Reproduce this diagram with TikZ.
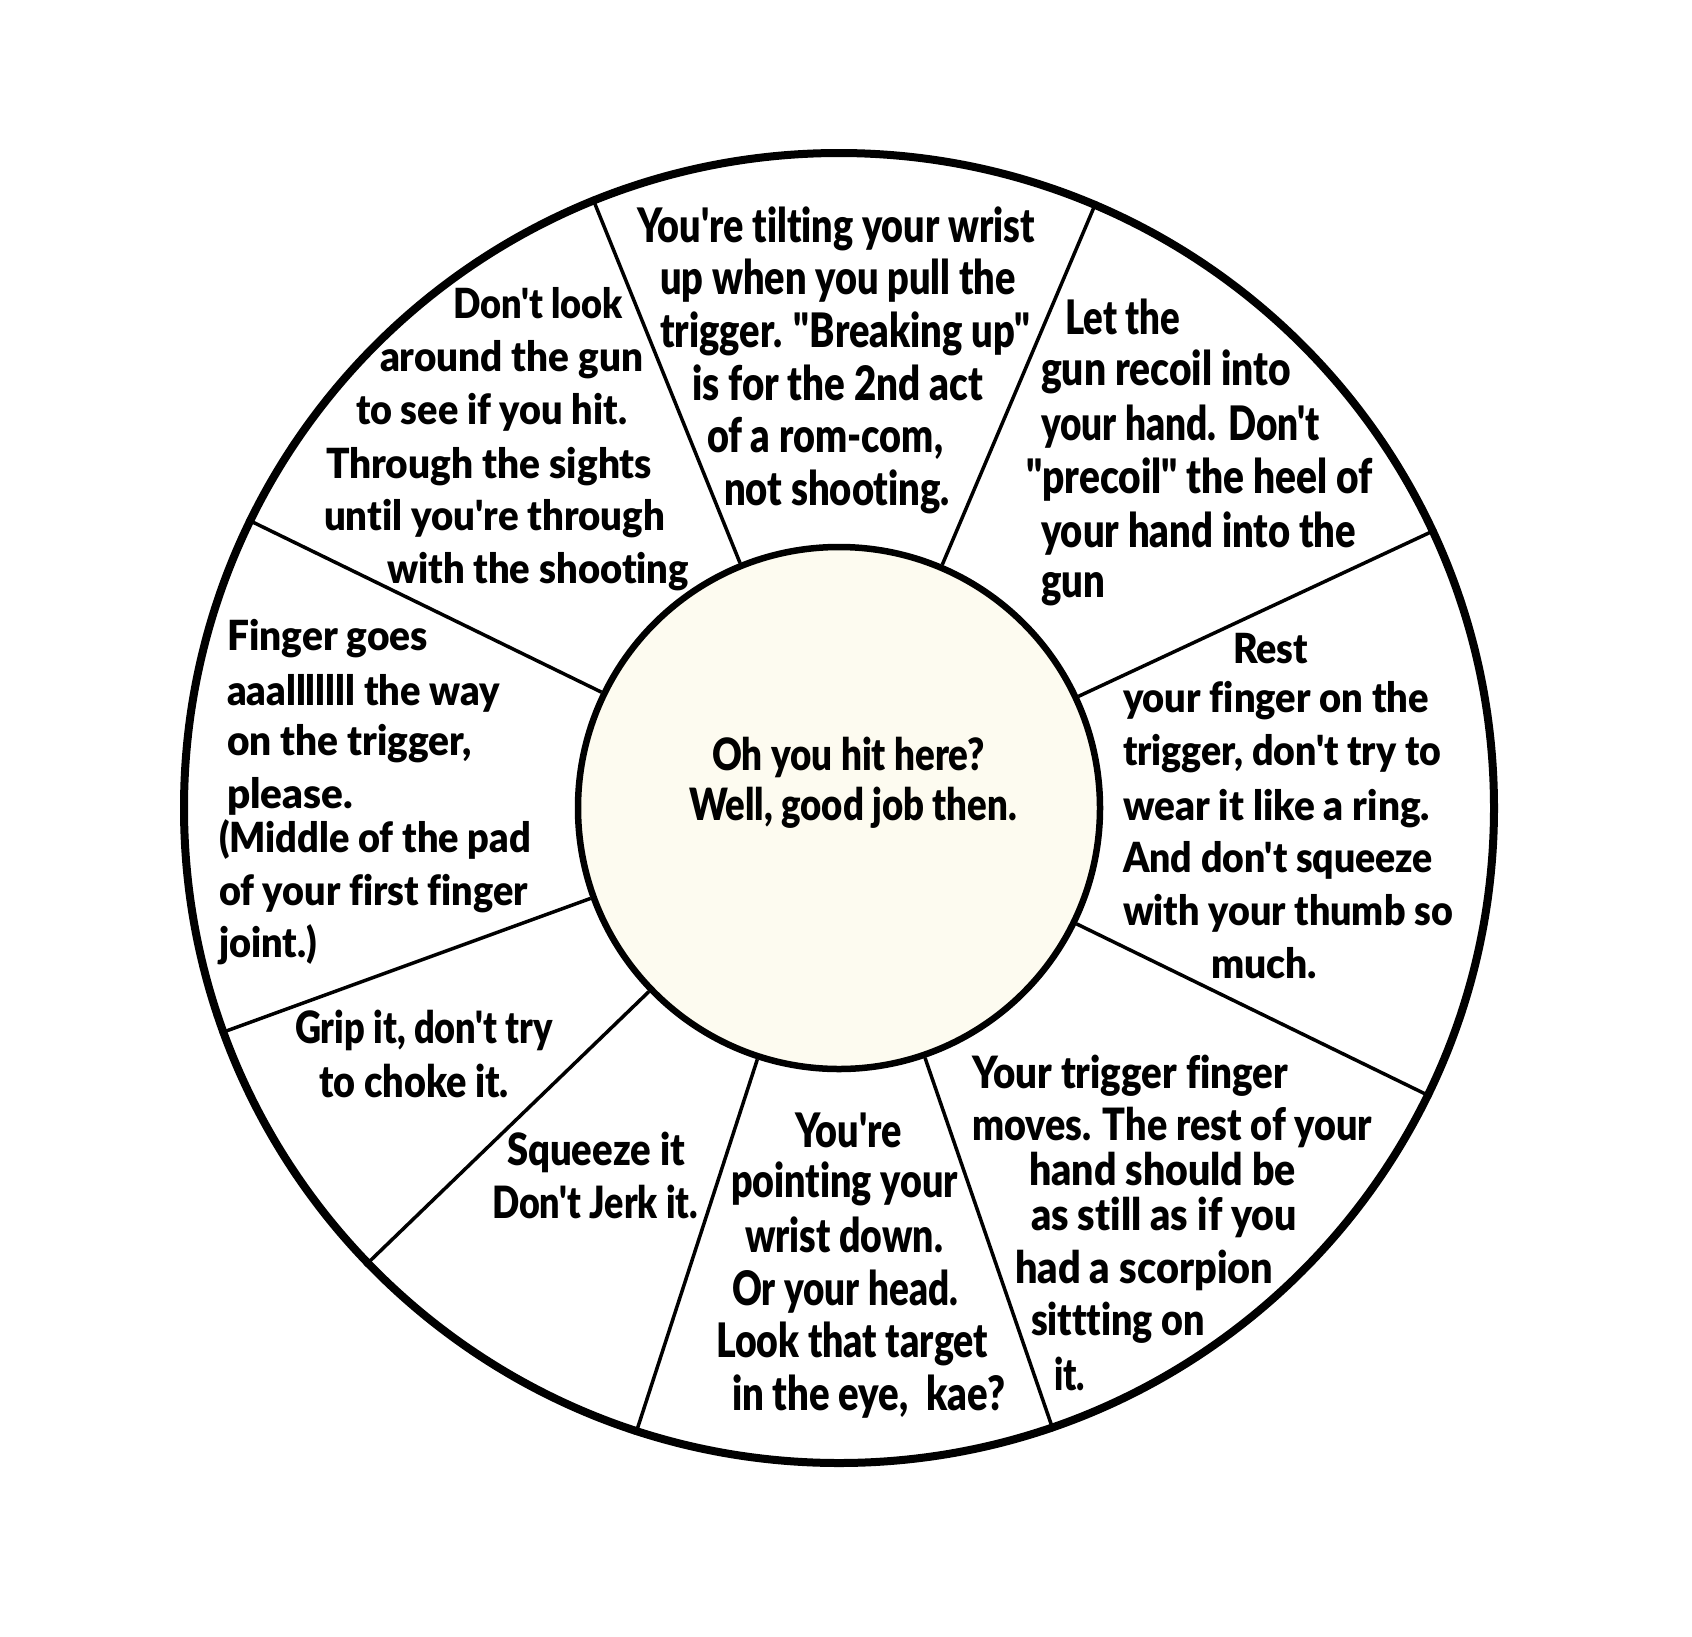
\documentclass[tikz,border=0pt]{standalone}
\usepackage{graphicx}
\usepackage{fontspec}
\newif\iffoundfont \foundfontfalse
\newcommand\tryheavy[1]{\iffoundfont\else
  \IfFontExistsTF{#1}{\newfontfamily\impbase{#1}[Ligatures={NoCommon}]\gdef\impf{\impbase}\global\foundfonttrue}{}\fi}
\tryheavy{Lato Black}
\tryheavy{Lato Heavy}
\tryheavy{Fira Sans Black}
\tryheavy{Fira Sans ExtraBold}
\iffoundfont\else
  \newfontfamily\impbase{DejaVu Sans}\gdef\impf{\impbase\bfseries}
\fi
\newcommand\fitw[2]{\resizebox{#1pt}{\height}{#2}}
\definecolor{cream}{RGB}{253,251,240}
\begin{document}
\begin{tikzpicture}[x=1pt,y=-1pt,
  ln/.style={anchor=base west, inner sep=0pt, outer sep=0pt, text=black},
  fa/.style={font=\impf\fontsize{41.5}{42}\selectfont},
  fb/.style={font=\impf\fontsize{44.5}{45}\selectfont},
  fc/.style={font=\impf\fontsize{47.5}{48}\selectfont},
  spoke/.style={line width=3.5pt, draw=black},
]
\useasboundingbox (0,0) rectangle (1692,1636);
\fill[white] (0,0) rectangle (1692,1636);
\node[circle, draw=black, fill=white, line width=8pt, minimum size=1310pt, inner sep=0pt] (o) at (839,808) {};
\node[circle, draw=black, fill=cream, line width=6.5pt, minimum size=522pt, inner sep=0pt] (c) at (839,808) {};
\foreach \a in {112,67,25,-26,-71,-108,-136.5,-160,154.5}
  \draw[spoke] (c.\a) -- (o.\a);

% Block A
\begin{scope}[every node/.style={ln,fa}]
\node (a1) at (453,318) {\fitw{170}{Don't look}};
\node (a2) at (380,371) {\fitw{263}{around the gun}};
\node (a3) at (356,424) {\fitw{271}{to see if you hit.}};
\node (a4) at (326,478) {\fitw{326}{Through the sights}};
\node (a5) at (324,530) {\fitw{341}{until you're through}};
\node (a6) at (387,583) {\fitw{302}{with the shooting}};
\end{scope}
% Block B
\begin{scope}[every node/.style={ln,fc}]
\node (b1) at (637,242) {\fitw{398}{You're tilting your wrist}};
\node (b2) at (660,294) {\fitw{356}{up when you pull the}};
\node (b3) at (660,347) {\fitw{370}{trigger. "Breaking up"}};
\node (b4) at (692,400) {\fitw{291}{is for the 2nd act}};
\node (b5) at (707,452) {\fitw{236}{of a rom-com,}};
\node (b6) at (724,505) {\fitw{226}{not shooting.}};
\end{scope}
% Block C
\begin{scope}[every node/.style={ln,fc}]
\node (c1) at (1065,334) {\fitw{115}{Let the}};
\node (c2) at (1041,385) {\fitw{250}{gun recoil into}};
\node (c3) at (1041,440) {\fitw{279}{your hand. Don't}};
\node (c4) at (1026,493) {\fitw{347}{"precoil" the heel of}};
\node (c5) at (1041,547) {\fitw{315}{your hand into the}};
\node (c6) at (1041,597) {\fitw{64}{gun}};
\end{scope}
% Block D
\begin{scope}[every node/.style={ln,fa}]
\node (d1) at (227,650) {\fitw{201}{Finger goes}};
\node (d2) at (227,705) {\fitw{273}{aaalllllll the way}};
\node (d3) at (227,755) {\fitw{245}{on the trigger,}};
\node (d4) at (227,808) {\fitw{126}{please.}};
\node (d5) at (219,852) {\fitw{312}{(Middle of the pad}};
\node (d6) at (219,905) {\fitw{309}{of your first finger}};
\node (d7) at (219,957) {\fitw{98}{joint.)}};
\end{scope}
% Block E
\begin{scope}[every node/.style={ln,fa}]
\node (e1) at (1233,663) {\fitw{75}{Rest}};
\node (e2) at (1123,712) {\fitw{306}{your finger on the}};
\node (e3) at (1123,765) {\fitw{318}{trigger, don't try to}};
\node (e4) at (1123,820) {\fitw{307}{wear it like a ring.}};
\node (e5) at (1123,872) {\fitw{310}{And don't squeeze}};
\node (e6) at (1123,925) {\fitw{330}{with your thumb so}};
\node (e7) at (1211,978) {\fitw{106}{much.}};
\end{scope}
% Blocks F, G
\begin{scope}[every node/.style={ln,fb}]
\node (f1) at (295,1043) {\fitw{258}{Grip it, don't try}};
\node (f2) at (319,1097) {\fitw{190}{to choke it.}};
\node (g1) at (507,1165) {\fitw{178}{Squeeze it}};
\node (g2) at (492,1218) {\fitw{206}{Don't Jerk it.}};
\end{scope}
% Block H
\begin{scope}[every node/.style={ln,fc}]
\node (h1) at (795,1147) {\fitw{107}{You're}};
\node (h2) at (731,1197) {\fitw{227}{pointing your}};
\node (h3) at (745,1252) {\fitw{198}{wrist down.}};
\node (h4) at (732,1305) {\fitw{226}{Or your head.}};
\node (h5) at (716,1357) {\fitw{272}{Look that target}};
\node (h6) at (732,1410) {\fitw{273}{in the eye,\ \ kae?}};
\end{scope}
% Block I
\begin{scope}[every node/.style={ln,fb}]
\node (i1) at (972,1088) {\fitw{316}{Your trigger finger}};
\node (i2) at (972,1140) {\fitw{400}{moves. The rest of your}};
\node (i3) at (1029,1185) {\fitw{267}{hand should be}};
\node (i4) at (1031,1230) {\fitw{266}{as still as if you}};
\node (i5) at (1015,1283) {\fitw{258}{had a scorpion}};
\node (i6) at (1031,1335) {\fitw{174}{sittting on}};
\node (i7) at (1054,1390) {\fitw{31}{it.}};
\end{scope}
% Centre
\begin{scope}[every node/.style={ln,fb}]
\node (j1) at (712,770) {\fitw{273}{Oh you hit here?}};
\node (j2) at (689,820) {\fitw{328}{Well, good job then.}};
\end{scope}
\end{tikzpicture}
\end{document}
